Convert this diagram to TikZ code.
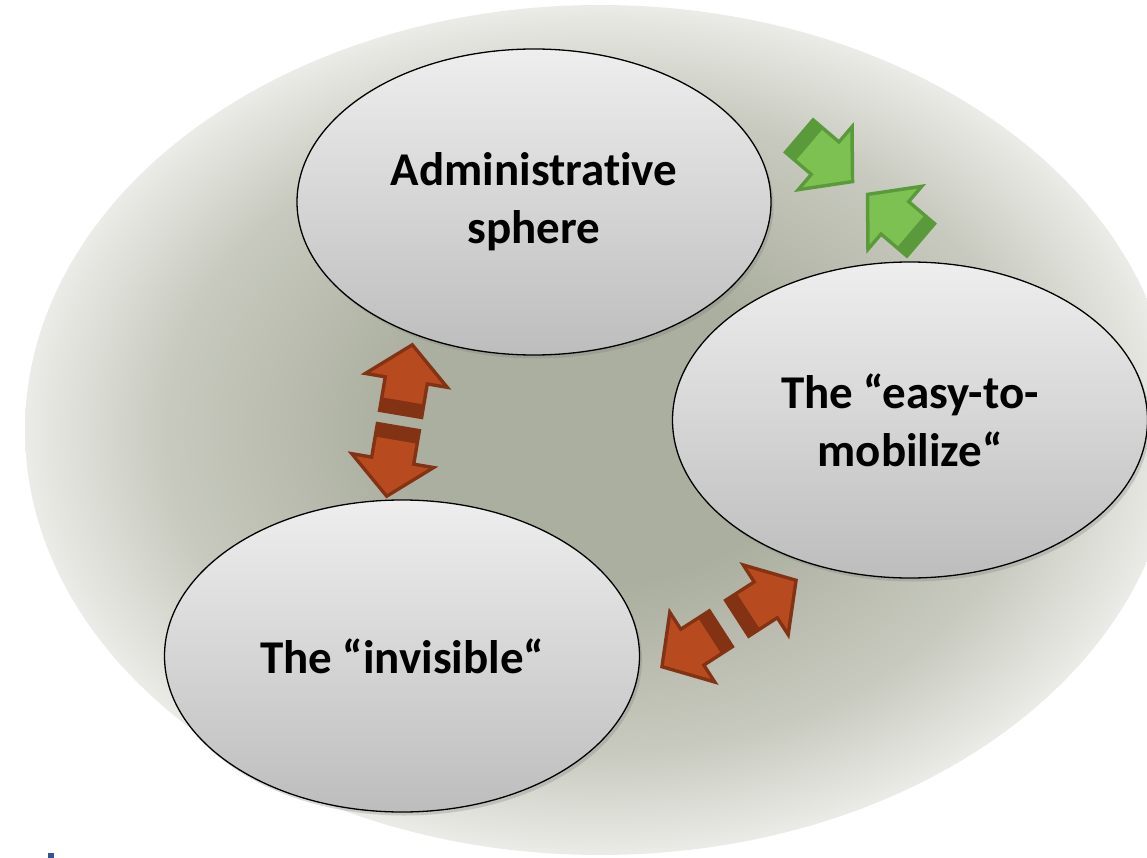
\documentclass[tikz,border=0pt]{standalone}
\usepackage{fontspec}
\setmainfont[Ligatures={NoCommon}]{Carlito}
\usetikzlibrary{shapes.geometric,shadows}
\definecolor{bgin}{HTML}{ABAF9F}
\definecolor{bgmid}{HTML}{C8CABF}
\definecolor{bgout}{HTML}{EBEBE7}
\definecolor{bubtop}{HTML}{EEEEEE}
\definecolor{bubbot}{HTML}{BDBDBD}
\definecolor{reddark}{HTML}{843214}
\definecolor{redface}{HTML}{B84A20}
\definecolor{greendark}{HTML}{5A9A3A}
\definecolor{greenface}{HTML}{7DC152}
\definecolor{bluemark}{HTML}{2F5597}
\pgfdeclareradialshading{bgshade}{\pgfpoint{0bp}{0bp}}{color(0bp)=(bgin); color(9bp)=(bgin); color(19bp)=(bgmid); color(25bp)=(bgout); color(50bp)=(bgout)}
\tikzset{
  pics/barrow/.style n args={3}{code={
    \begin{scope}[xshift=#3]
      \fill[#1] (0,-23) -- (34,-23) -- (34,-46) -- (74,0) -- (34,46) -- (34,23) -- (0,23) -- cycle;
      \fill[#2] (15,-19.5) -- (37.5,-19.5) -- (37.5,-36.6) -- (69.4,0) -- (37.5,36.6) -- (37.5,19.5) -- (15,19.5) -- cycle;
    \end{scope}
  }}
}
\begin{document}
\begin{tikzpicture}[x=1pt,y=-1pt,
  bubble/.style={ellipse, draw=black, line width=1.3pt, top color=bubtop, bottom color=bubbot,
    inner sep=0pt, align=center, font=\fontsize{47}{58}\selectfont\bfseries,
    drop shadow={shadow xshift=2.5pt, shadow yshift=-3.5pt, opacity=0.3}}]
\useasboundingbox (0,0) rectangle (1147,858);
\clip (0,0) rectangle (1147,858);
\shade[shading=bgshade] (600,430) ellipse [x radius=575, y radius=425];
\node[bubble, minimum width=474pt, minimum height=306pt] (adm) at (534,202) {Administrative\\sphere};
\node[bubble, minimum width=475pt, minimum height=316pt] (easy) at (910,420) {The “easy-to-\\mobilize“};
\node[bubble, minimum width=475pt, minimum height=312pt] (inv) at (402,656) {The “invisible“};
% green converging pair
\pic[rotate=-40.5] at (798,135) {barrow={greendark}{greenface}{0}};
\pic[rotate=139.5] at (922,241) {barrow={greendark}{greenface}{0}};
% red vertical pair
\pic[rotate=80.4] at (399.5,420.5) {barrow={reddark}{redface}{5}};
\pic[rotate=260.4] at (399.5,420.5) {barrow={reddark}{redface}{5}};
% red bottom pair
\pic[rotate=32.8] at (729,623.5) {barrow={reddark}{redface}{8}};
\pic[rotate=212.8] at (729,623.5) {barrow={reddark}{redface}{8}};
\fill[bluemark] (48,853) rectangle (54,858);
\end{tikzpicture}
\end{document}
